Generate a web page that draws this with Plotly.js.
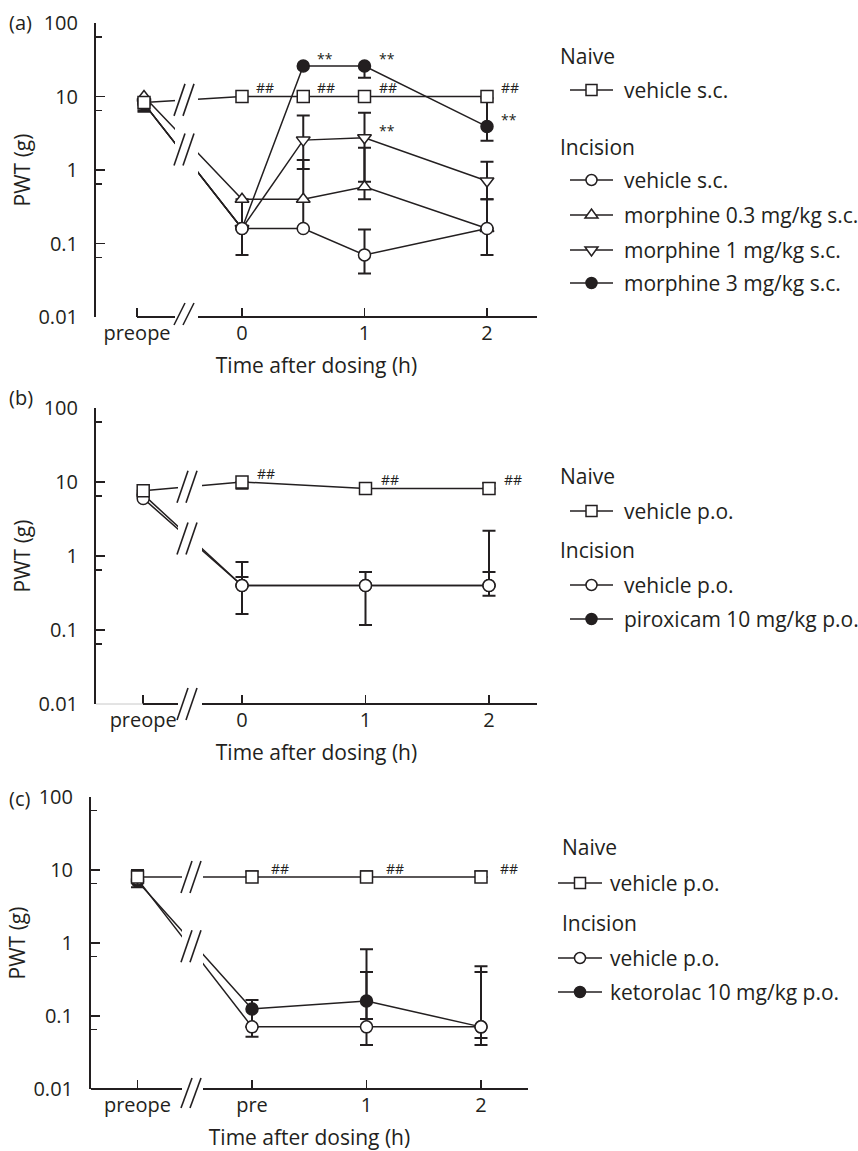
<!DOCTYPE html>
<html><head><meta charset="utf-8">
<script src="https://cdn.plot.ly/plotly-3.0.1.min.js"></script>
<style>html,body{margin:0;padding:0;background:#fff}</style>
</head><body><div id="chart" style="width:858px;height:1151px"></div>
<script>
// ================= DATA =================
const yTickVals = [0.01, 0.1, 1, 10, 100];
const yTickText = ['0.01', '0.1', '1', '10', '100'];
const yMinorVals = [0.0065, 0.065, 0.65, 6.5, 65];
const groupTitles = ['Naive', 'Incision'];

// Panel (a)
const timesA = ['preope', 0, 0.5, 1, 2];
const xTickA = ['preope', 0, 1, 2];
const xTickTextA = ['preope', '0', '1', '2'];
const namesA = ['vehicle s.c.', 'vehicle s.c.', 'morphine 0.3 mg/kg s.c.', 'morphine 1 mg/kg s.c.', 'morphine 3 mg/kg s.c.'];
const naiveA    = [8.3, 10, 10, 10, 10];
const naiveA_hi = [null, null, null, null, null];
const naiveA_lo = [6.5, null, null, null, null];
const naiveA_sig = ['', '##', '##', '##', '##'];
const vehA    = [8, 0.16, 0.16, 0.07, 0.16];
const vehA_hi = [null, null, null, 0.155, null];
const vehA_lo = [6.2, 0.07, null, 0.039, 0.07];
const m03A    = [10, 0.4, 0.4, 0.59, 0.16];
const m03A_hi = [null, null, 1.37, 2.0, 0.4];
const m03A_lo = [null, 0.16, 0.16, 0.4, null];
const m1A    = [8, 0.16, 2.55, 2.75, 0.71];
const m1A_hi = [null, null, 5.5, 6.0, 1.3];
const m1A_lo = [null, null, 1.03, 0.69, 0.4];
const m1A_sig = ['', '', '', '**', ''];
const m3A    = [8, 0.16, 26, 26, 3.9];
const m3A_hi = [null, null, null, null, 9.5];
const m3A_lo = [null, null, null, 18, 2.5];
const m3A_sig = ['', '', '**', '**', '**'];

// Panel (b)
const timesB = ['preope', 0, 1, 2];
const xTickB = ['preope', 0, 1, 2];
const xTickTextB = ['preope', '0', '1', '2'];
const namesB = ['vehicle p.o.', 'vehicle p.o.', 'piroxicam 10 mg/kg p.o.'];
const naiveB    = [7.6, 10, 8.2, 8.2];
const naiveB_hi = [null, null, 9.7, 9.7];
const naiveB_lo = [6.6, 8.1, null, null];
const naiveB_sig = ['', '##', '##', '##'];
const vehB    = [6.0, 0.4, 0.4, 0.4];
const vehB_hi = [null, 0.83, 0.61, 2.2];
const vehB_lo = [null, 0.165, 0.117, 0.29];
const pirB    = [6.8, 0.4, 0.4, 0.4];
const pirB_hi = [null, 0.52, null, 0.61];
const pirB_lo = [null, null, null, null];

// Panel (c)
const timesC = ['preope', 'pre', 1, 2];
const xTickC = ['preope', 'pre', 1, 2];
const xTickTextC = ['preope', 'pre', '1', '2'];
const namesC = ['vehicle p.o.', 'vehicle p.o.', 'ketorolac 10 mg/kg p.o.'];
const naiveC    = [8, 8, 8, 8];
const naiveC_hi = [10, 9.6, 9.6, 9.6];
const naiveC_lo = [5.8, null, null, null];
const naiveC_sig = ['', '##', '##', '##'];
const vehC    = [7.5, 0.071, 0.071, 0.071];
const vehC_hi = [null, null, 0.4, 0.4];
const vehC_lo = [null, 0.052, 0.04, 0.04];
const ketC    = [7, 0.125, 0.16, 0.071];
const ketC_hi = [null, 0.165, 0.82, 0.48];
const ketC_lo = [null, 0.071, 0.091, 0.05];

// ================= STYLE / GEOMETRY =================
const W = 858, H = 1151;
const INK = '#231f20';
const FONT = '"Open Sans", "Noto Sans", sans-serif';
const X = px => px / W;
const Y = py => 1 - py / H;

const panels = [
  {id:'a', xa:'x', ya:'y', left:96, right:537, top:23, bottom:317, zeroPx:242, unit:122.5,
   preope:-0.80, preopeTick:-0.857, gapL:175, gapR:198, axisStart:137, faintStart:null,
   axisSlashH:22, axisSlashDy:-3, sigDx:12, label:'(a)', labelY:22,
   legend:{headerX:558, symX0:570, symX1:613, textX:622, ys:[56, 90, 147, 180, 215, 250, 283]}},
  {id:'b', xa:'x2', ya:'y2', left:96, right:537, top:408, bottom:704, zeroPx:242, unit:123.5,
   preope:-0.80, preopeTick:-0.80, gapL:178, gapR:202, axisStart:143, faintStart:96,
   axisSlashH:32, axisSlashDy:0, sigDx:13, label:'(b)', labelY:397,
   legend:{headerX:558, symX0:570, symX1:613, textX:622, ys:[476, 511, 550, 585, 619]}},
  {id:'c', xa:'x3', ya:'y3', left:91, right:528, top:797, bottom:1089, zeroPx:252, unit:114.5,
   preope:-1.0, preopeTick:-1.0, gapL:182, gapR:203, axisStart:91, faintStart:null,
   axisSlashH:30, axisSlashDy:4, sigDx:17, label:'(c)', labelY:798,
   legend:{headerX:560, symX0:558, symX1:602, textX:608, ys:[847, 883, 923, 958, 992]}}
];
panels.forEach(p => {
  p.range = [(p.left - p.zeroPx) / p.unit, (p.right - p.zeroPx) / p.unit];
  p.xPx = x => p.zeroPx + x * p.unit;
  p.yPx = v => p.bottom - (Math.log10(v) + 2) / 4 * (p.bottom - p.top);
  p.pos = t => t === 'preope' ? p.preope : (t === 'pre' ? 0 : t);
  p.tickPos = t => t === 'preope' ? p.preopeTick : (t === 'pre' ? 0 : t);
});
const [PA, PB, PC] = panels;

// ================= TRACES =================
function errArr(b, y, up) {
  return b.map((v, i) => v == null ? NaN : (up ? v - y[i] : y[i] - v));
}
function series(p, times, y, hi, lo, sym, fill) {
  return {
    type: 'scatter', mode: 'lines+markers', xaxis: p.xa, yaxis: p.ya,
    x: times.map(p.pos), y: y,
    line: {color: INK, width: 1.5},
    marker: {symbol: sym, size: 12, color: fill, line: {color: INK, width: 1.5}},
    error_y: {type: 'data', symmetric: false, array: errArr(hi, y, true), arrayminus: errArr(lo, y, false),
              color: INK, thickness: 2, width: 6.5},
    showlegend: false, hoverinfo: 'skip', cliponaxis: false
  };
}
const seriesA = [
  {y: m3A, hi: m3A_hi, lo: m3A_lo, sym: 'circle', fill: INK, sig: m3A_sig},
  {y: m1A, hi: m1A_hi, lo: m1A_lo, sym: 'triangle-down', fill: '#fff', sig: m1A_sig},
  {y: m03A, hi: m03A_hi, lo: m03A_lo, sym: 'triangle-up', fill: '#fff'},
  {y: vehA, hi: vehA_hi, lo: vehA_lo, sym: 'circle', fill: '#fff'},
  {y: naiveA, hi: naiveA_hi, lo: naiveA_lo, sym: 'square', fill: '#fff', sig: naiveA_sig}
];
const seriesB = [
  {y: pirB, hi: pirB_hi, lo: pirB_lo, sym: 'circle', fill: INK},
  {y: vehB, hi: vehB_hi, lo: vehB_lo, sym: 'circle', fill: '#fff'},
  {y: naiveB, hi: naiveB_hi, lo: naiveB_lo, sym: 'square', fill: '#fff', sig: naiveB_sig}
];
const seriesC = [
  {y: ketC, hi: ketC_hi, lo: ketC_lo, sym: 'circle', fill: INK},
  {y: vehC, hi: vehC_hi, lo: vehC_lo, sym: 'circle', fill: '#fff'},
  {y: naiveC, hi: naiveC_hi, lo: naiveC_lo, sym: 'square', fill: '#fff', sig: naiveC_sig}
];
const data = [];
seriesA.forEach(s => data.push(series(PA, timesA, s.y, s.hi, s.lo, s.sym, s.fill)));
seriesB.forEach(s => data.push(series(PB, timesB, s.y, s.hi, s.lo, s.sym, s.fill)));
seriesC.forEach(s => data.push(series(PC, timesC, s.y, s.hi, s.lo, s.sym, s.fill)));

// ================= SHAPES & ANNOTATIONS =================
const shapes = [], annotations = [];
function line(x0, y0, x1, y1, w, c) {
  shapes.push({type: 'line', xref: 'paper', yref: 'paper', x0: X(x0), y0: Y(y0), x1: X(x1), y1: Y(y1),
               line: {color: c || INK, width: w || 1.5}, layer: 'above'});
}
function slashPair(p, cy, h) {
  [0, 9].forEach(k => line(p.gapL - 1 + k, cy + h / 2, p.gapL + 10 + k, cy - h / 2, 1.6));
}
function groupCenter(p, list) {
  const xc = (p.gapL + p.gapR) / 2;
  const ys = list.map(s => {
    const x0 = p.xPx(p.preope), y0 = p.yPx(s[0]);
    const x1 = p.xPx(0), y1 = p.yPx(s[1]);
    return y0 + (y1 - y0) * (xc - x0) / (x1 - x0);
  });
  return (Math.min(...ys) + Math.max(...ys)) / 2;
}
function decorate(p, naive, incision) {
  shapes.push({type: 'rect', xref: 'paper', yref: 'paper', x0: X(p.gapL), x1: X(p.gapR),
               y0: Y(p.bottom - 1.5), y1: Y(p.top), fillcolor: '#fff', line: {width: 0}, layer: 'above'});
  if (p.faintStart != null) line(p.faintStart, p.bottom, p.axisStart, p.bottom, 1, '#c8c8c8');
  line(p.axisStart, p.bottom, p.gapL, p.bottom, 2);
  line(p.gapR, p.bottom, p.right, p.bottom, 2);
  slashPair(p, p.bottom + p.axisSlashDy, p.axisSlashH);
  slashPair(p, groupCenter(p, naive), 32);
  slashPair(p, groupCenter(p, incision), 32);
}
decorate(PA, [naiveA], [vehA, m03A, m1A, m3A]);
decorate(PB, [naiveB], [vehB, pirB]);
decorate(PC, [naiveC], [vehC, ketC]);

function sigNotes(p, times, list) {
  list.forEach(s => {
    if (!s.sig) return;
    s.sig.forEach((t, i) => {
      if (!t) return;
      annotations.push({xref: 'paper', yref: 'paper', x: X(p.xPx(p.pos(times[i]))), y: Y(p.yPx(s.y[i])),
        text: t, showarrow: false, xanchor: 'left', yanchor: 'middle',
        xshift: p.sigDx, yshift: t === '##' ? 9 : 7,
        font: {family: FONT, size: 14, color: INK}});
    });
  });
}
sigNotes(PA, timesA, seriesA);
sigNotes(PB, timesB, seriesB);
sigNotes(PC, timesC, seriesC);

function legendSymbol(cx, cy, kind, fill) {
  const base = {xref: 'paper', yref: 'paper', xsizemode: 'pixel', ysizemode: 'pixel',
                xanchor: X(cx), yanchor: Y(cy), fillcolor: fill, line: {color: INK, width: 1.5}, layer: 'above'};
  if (kind === 'square') shapes.push(Object.assign({type: 'rect', x0: -5.5, x1: 5.5, y0: -5.5, y1: 5.5}, base));
  else if (kind === 'circle') shapes.push(Object.assign({type: 'circle', x0: -5.5, x1: 5.5, y0: -5.5, y1: 5.5}, base));
  else if (kind === 'triangle-up') shapes.push(Object.assign({type: 'path', path: 'M-6.5,-3 L6.5,-3 L0,6 Z'}, base));
  else if (kind === 'triangle-down') shapes.push(Object.assign({type: 'path', path: 'M-6.5,3 L6.5,3 L0,-6 Z'}, base));
}
function buildLegend(p, names, syms) {
  const L = p.legend;
  const rows = [{header: groupTitles[0]}, {name: names[0], s: syms[0]}, {header: groupTitles[1]}];
  for (let i = 1; i < names.length; i++) rows.push({name: names[i], s: syms[i]});
  rows.forEach((r, i) => {
    const y = L.ys[i];
    if (r.header) {
      annotations.push({xref: 'paper', yref: 'paper', x: X(L.headerX), y: Y(y), text: r.header, showarrow: false,
        xanchor: 'left', yanchor: 'middle', font: {family: FONT, size: 21, color: INK}});
    } else {
      line(L.symX0, y, L.symX1, y, 1.5);
      legendSymbol((L.symX0 + L.symX1) / 2, y, r.s.sym, r.s.fill);
      annotations.push({xref: 'paper', yref: 'paper', x: X(L.textX), y: Y(y), text: r.name, showarrow: false,
        xanchor: 'left', yanchor: 'middle', font: {family: FONT, size: 21, color: INK}});
    }
  });
}
buildLegend(PA, namesA, [seriesA[4], seriesA[3], seriesA[2], seriesA[1], seriesA[0]]);
buildLegend(PB, namesB, [seriesB[2], seriesB[1], seriesB[0]]);
buildLegend(PC, namesC, [seriesC[2], seriesC[1], seriesC[0]]);

panels.forEach(p => {
  annotations.push({xref: 'paper', yref: 'paper', x: X(7), y: Y(p.labelY), text: p.label, showarrow: false,
    xanchor: 'left', yanchor: 'middle', font: {family: FONT, size: 20, color: INK}});
});

// ================= LAYOUT =================
const layout = {
  width: W, height: H, margin: {l: 0, r: 0, t: 0, b: 0},
  paper_bgcolor: '#fff', plot_bgcolor: 'rgba(0,0,0,0)', showlegend: false,
  shapes: shapes, annotations: annotations
};
function axes(p, ticks, tickText, n) {
  const sx = n === 1 ? '' : String(n);
  layout['xaxis' + sx] = {
    domain: [X(p.left), X(p.right)], range: p.range, anchor: 'y' + sx,
    showline: false, showgrid: false, zeroline: false, fixedrange: true,
    ticks: 'inside', ticklen: 9, tickwidth: 1.5, tickcolor: INK,
    tickmode: 'array', tickvals: ticks.map(p.tickPos), ticktext: tickText,
    tickfont: {family: FONT, size: 20, color: INK}, ticklabelstandoff: 2,
    title: {text: 'Time after dosing (h)', font: {family: FONT, size: 21, color: INK}, standoff: 13}
  };
  layout['yaxis' + sx] = {
    domain: [Y(p.bottom), Y(p.top)], type: 'log', range: [-2, 2], anchor: 'x' + sx,
    showline: true, linecolor: INK, linewidth: 2, showgrid: false, zeroline: false, fixedrange: true,
    ticks: 'inside', ticklen: 9, tickwidth: 1.5, tickcolor: INK,
    tickmode: 'array', tickvals: yTickVals, ticktext: yTickText,
    minor: {tickmode: 'array', tickvals: yMinorVals, ticks: 'inside', ticklen: 6, tickwidth: 1.5, tickcolor: INK, showgrid: false},
    tickfont: {family: FONT, size: 20, color: INK}, ticklabelstandoff: 12,
    title: {text: 'PWT (g)', font: {family: FONT, size: 21, color: INK}, standoff: 2}
  };
}
axes(PA, xTickA, xTickTextA, 1);
axes(PB, xTickB, xTickTextB, 2);
axes(PC, xTickC, xTickTextC, 3);

Plotly.newPlot('chart', data, layout, {staticPlot: true, displayModeBar: false});
</script></body></html>
